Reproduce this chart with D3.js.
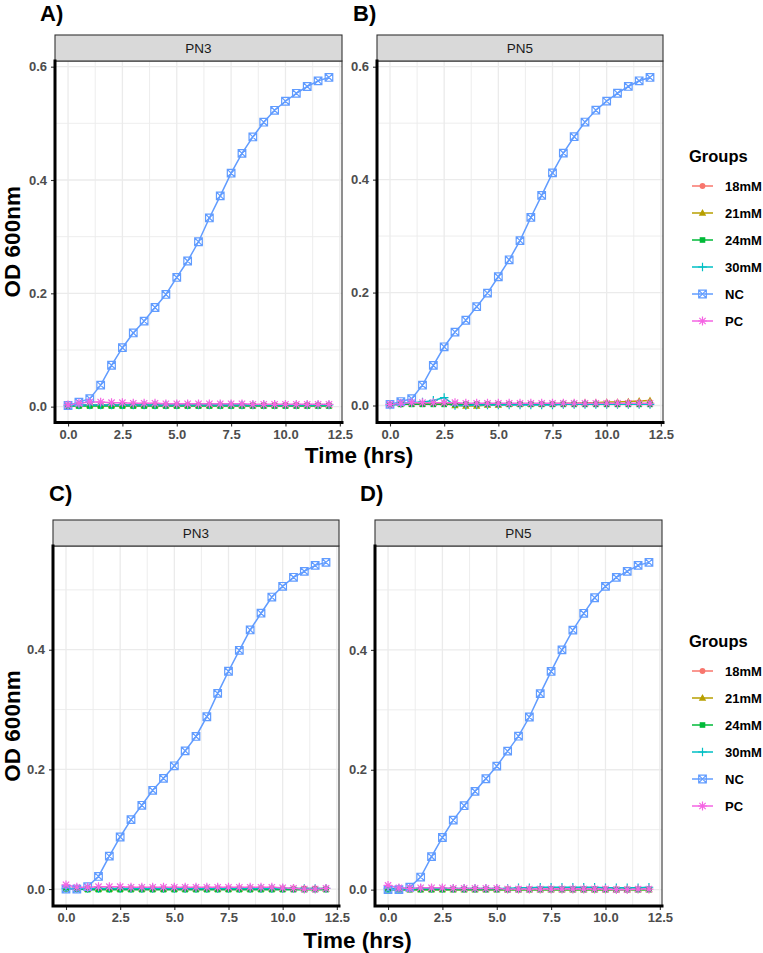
<!DOCTYPE html>
<html>
<head>
<meta charset="utf-8">
<title>OD600 growth curves</title>
<script src="https://d3js.org/d3.v7.min.js"></script>
<style>
body {
  margin: 0;
  background: #fff;
  font-family: 'Liberation Sans', Arial, Helvetica, sans-serif;
}
</style>
</head>
<body>
<svg id="chart"></svg>
<script>
// time points (hrs)
var times = [0, 0.5, 1, 1.5, 2, 2.5, 3, 3.5, 4, 4.5, 5, 5.5, 6, 6.5, 7, 7.5, 8, 8.5, 9, 9.5, 10, 10.5, 11, 11.5, 12];

var groups = ['18mM', '21mM', '24mM', '30mM', 'NC', 'PC'];
var colors = ['#F8766D', '#B79F00', '#00BA38', '#00BFC4', '#619CFF', '#F564E3'];
var shapes = ['circle', 'triangle', 'square', 'plus', 'squareCross', 'asterisk'];

var xTicks = [0, 2.5, 5, 7.5, 10, 12.5];
var xMinor = [1.25, 3.75, 6.25, 8.75, 11.25];

// A) PN3, top
var a18 = [0.002, 0.003, 0.003, 0.003, 0.003, 0.003, 0.003, 0.003, 0.003, 0.003, 0.003, 0.003, 0.003, 0.003, 0.003, 0.003, 0.003, 0.003, 0.003, 0.003, 0.003, 0.003, 0.003, 0.003, 0.003];
var a21 = [0.001, 0.002, 0.002, 0.002, 0.002, 0.002, 0.002, 0.002, 0.002, 0.002, 0.002, 0.002, 0.002, 0.002, 0.002, 0.002, 0.002, 0.002, 0.002, 0.002, 0.002, 0.002, 0.002, 0.002, 0.002];
var a24 = [0.001, 0.001, 0.001, 0.001, 0.001, 0.001, 0.001, 0.001, 0.001, 0.001, 0.001, 0.001, 0.001, 0.001, 0.001, 0.001, 0.001, 0.001, 0.001, 0.001, 0.001, 0.001, 0.001, 0.001, 0.001];
var a30 = [0.002, 0.003, 0.003, 0.003, 0.003, 0.003, 0.003, 0.003, 0.003, 0.003, 0.003, 0.003, 0.003, 0.003, 0.003, 0.003, 0.003, 0.003, 0.003, 0.003, 0.003, 0.003, 0.003, 0.003, 0.003];
var aNC = [0.002, 0.008, 0.014, 0.038, 0.073, 0.104, 0.130, 0.151, 0.175, 0.198, 0.228, 0.257, 0.291, 0.333, 0.372, 0.412, 0.447, 0.476, 0.502, 0.523, 0.539, 0.553, 0.565, 0.575, 0.581];
var aPC = [0.003, 0.006, 0.008, 0.008, 0.007, 0.007, 0.006, 0.006, 0.006, 0.005, 0.005, 0.005, 0.005, 0.005, 0.005, 0.005, 0.005, 0.004, 0.004, 0.004, 0.004, 0.004, 0.004, 0.004, 0.004];

// B) PN5, top
var b18 = [0.002, 0.003, 0.003, 0.003, 0.003, 0.003, 0.003, 0.003, 0.003, 0.003, 0.003, 0.003, 0.003, 0.003, 0.003, 0.003, 0.003, 0.003, 0.003, 0.003, 0.003, 0.003, 0.003, 0.003, 0.003];
var b21 = [0.002, 0.003, 0.003, 0.003, 0.004, 0.004, 0.000, -0.001, -0.001, 0.001, 0.001, 0.002, 0.002, 0.002, 0.002, 0.003, 0.004, 0.004, 0.005, 0.005, 0.006, 0.006, 0.007, 0.008, 0.009];
var b24 = [0.001, 0.002, 0.002, 0.002, 0.002, 0.002, 0.002, 0.002, 0.002, 0.002, 0.002, 0.002, 0.002, 0.002, 0.002, 0.002, 0.002, 0.002, 0.002, 0.002, 0.002, 0.002, 0.002, 0.002, 0.002];
var b30 = [0.001, 0.004, 0.005, 0.006, 0.009, 0.014, 0.000, 0.000, 0.001, 0.001, 0.001, 0.001, 0.001, 0.001, 0.001, 0.001, 0.002, 0.002, 0.002, 0.002, 0.002, 0.002, 0.002, 0.002, 0.002];
var bNC = [0.002, 0.007, 0.012, 0.036, 0.071, 0.104, 0.130, 0.151, 0.175, 0.199, 0.228, 0.258, 0.292, 0.333, 0.372, 0.412, 0.447, 0.476, 0.502, 0.523, 0.539, 0.553, 0.565, 0.575, 0.581];
var bPC = [0.002, 0.004, 0.005, 0.005, 0.005, 0.005, 0.005, 0.004, 0.004, 0.004, 0.004, 0.004, 0.004, 0.004, 0.004, 0.004, 0.004, 0.004, 0.004, 0.004, 0.004, 0.004, 0.004, 0.004, 0.004];

// C) PN3, bottom
var c18 = [0.001, 0.001, 0.001, 0.001, 0.001, 0.001, 0.001, 0.001, 0.001, 0.001, 0.001, 0.001, 0.001, 0.001, 0.001, 0.001, 0.001, 0.001, 0.001, 0.001, 0.001, 0.001, 0.001, 0.001, 0.001];
var c21 = [0.000, 0.000, 0.000, 0.000, 0.000, 0.000, 0.000, 0.000, 0.000, 0.000, 0.000, 0.000, 0.000, 0.000, 0.000, 0.000, 0.000, 0.000, 0.000, 0.000, 0.000, 0.000, 0.000, 0.000, 0.000];
var c24 = [0.001, 0.000, -0.001, -0.001, -0.001, -0.001, -0.001, -0.001, -0.001, -0.001, -0.001, -0.001, -0.001, -0.001, -0.001, -0.001, -0.001, -0.001, -0.001, -0.001, -0.001, -0.001, -0.001, -0.001, -0.001];
var c30 = [0.001, 0.001, 0.001, 0.001, 0.001, 0.001, 0.001, 0.001, 0.001, 0.001, 0.001, 0.001, 0.001, 0.001, 0.001, 0.001, 0.001, 0.001, 0.001, 0.001, 0.001, 0.001, 0.001, 0.001, 0.001];
var cNC = [0.000, 0.000, 0.004, 0.021, 0.055, 0.087, 0.116, 0.140, 0.165, 0.185, 0.206, 0.231, 0.255, 0.288, 0.327, 0.364, 0.399, 0.433, 0.461, 0.488, 0.506, 0.521, 0.531, 0.541, 0.546];
var cPC = [0.007, 0.003, 0.003, 0.004, 0.004, 0.004, 0.003, 0.003, 0.003, 0.003, 0.003, 0.003, 0.003, 0.003, 0.003, 0.003, 0.003, 0.003, 0.003, 0.003, 0.002, 0.001, 0.000, 0.000, 0.001];

// D) PN5, bottom
var d18 = [0.001, 0.001, 0.001, 0.001, 0.001, 0.001, 0.001, 0.001, 0.001, 0.001, 0.001, 0.001, 0.001, 0.001, 0.001, 0.001, 0.001, 0.001, 0.001, 0.001, 0.001, 0.001, 0.001, 0.001, 0.001];
var d21 = [0.000, 0.000, 0.000, 0.000, 0.000, 0.000, 0.000, 0.000, 0.000, 0.000, 0.000, 0.000, 0.000, 0.000, 0.000, 0.000, 0.000, 0.000, 0.000, 0.000, 0.000, 0.000, 0.000, 0.000, 0.000];
var d24 = [0.000, 0.000, 0.000, 0.000, 0.000, 0.000, 0.000, 0.000, 0.000, 0.000, 0.000, 0.000, 0.000, 0.000, 0.000, 0.000, 0.000, 0.000, 0.000, 0.000, 0.000, 0.000, 0.000, 0.000, 0.000];
var d30 = [0.002, 0.002, 0.002, 0.002, 0.002, 0.002, 0.002, 0.002, 0.002, 0.002, 0.002, 0.002, 0.003, 0.003, 0.004, 0.004, 0.004, 0.004, 0.004, 0.004, 0.003, 0.003, 0.003, 0.003, 0.004];
var dNC = [0.000, 0.000, 0.004, 0.021, 0.055, 0.087, 0.116, 0.140, 0.164, 0.185, 0.206, 0.231, 0.256, 0.288, 0.327, 0.364, 0.400, 0.433, 0.461, 0.487, 0.506, 0.521, 0.531, 0.541, 0.546];
var dPC = [0.007, 0.003, 0.002, 0.003, 0.003, 0.003, 0.002, 0.002, 0.002, 0.002, 0.002, 0.001, 0.001, 0.001, 0.001, 0.001, 0.001, 0.001, 0.001, 0.001, 0.001, 0.000, 0.000, 0.001, 0.001];

var width = 763, height = 953;

var svg = d3.select('#chart')
    .attr('width', width)
    .attr('height', height);

// panel frames (layout only)
var panels = [
    { tag: 'A)', strip: 'PN3', series: [a18, a21, a24, a30, aNC, aPC], left: 55, right: 342, top: 61, bottom: 422.5, tagX: 40, tagY: 20.5 },
    { tag: 'B)', strip: 'PN5', series: [b18, b21, b24, b30, bNC, bPC], left: 377, right: 663, top: 61, bottom: 422.5, tagX: 353, tagY: 20.5 },
    { tag: 'C)', strip: 'PN3', series: [c18, c21, c24, c30, cNC, cPC], left: 53, right: 339, top: 546, bottom: 906, tagX: 49, tagY: 501 },
    { tag: 'D)', strip: 'PN5', series: [d18, d21, d24, d30, dNC, dPC], left: 375, right: 662, top: 546, bottom: 906, tagX: 360, tagY: 501 }
];

var stripH = 26;

// ggplot-like 5% expansion
function expand(ext) {
    var pad = (ext[1] - ext[0]) * 0.05;
    return [ext[0] - pad, ext[1] + pad];
}

var xDomain = expand(d3.extent(times));

/**
 * Draw one marker of a given shape
 */
function drawShape(g, shape, color, cx, cy) {
    var s;
    if (shape === 'circle') {
        g.append('circle').attr('cx', cx).attr('cy', cy).attr('r', 2.9).attr('fill', color);
    } else if (shape === 'triangle') {
        s = 3.9;
        g.append('path')
            .attr('d', 'M' + cx + ',' + (cy - s) + 'L' + (cx + s * 0.95) + ',' + (cy + s * 0.7) + 'L' + (cx - s * 0.95) + ',' + (cy + s * 0.7) + 'Z')
            .attr('fill', color);
    } else if (shape === 'square') {
        s = 2.8;
        g.append('rect').attr('x', cx - s).attr('y', cy - s).attr('width', 2 * s).attr('height', 2 * s).attr('fill', color);
    } else if (shape === 'plus') {
        s = 4.3;
        g.append('path')
            .attr('d', 'M' + (cx - s) + ',' + cy + 'H' + (cx + s) + 'M' + cx + ',' + (cy - s) + 'V' + (cy + s))
            .attr('stroke', color).attr('stroke-width', 1.2).attr('fill', 'none');
    } else if (shape === 'squareCross') {
        s = 3.8;
        g.append('path')
            .attr('d', 'M' + (cx - s) + ',' + (cy - s) + 'H' + (cx + s) + 'V' + (cy + s) + 'H' + (cx - s) + 'Z' +
                'M' + (cx - s) + ',' + (cy - s) + 'L' + (cx + s) + ',' + (cy + s) +
                'M' + (cx + s) + ',' + (cy - s) + 'L' + (cx - s) + ',' + (cy + s))
            .attr('stroke', color).attr('stroke-width', 1.2).attr('fill', 'none');
    } else if (shape === 'asterisk') {
        s = 4.4;
        var k = s * 0.72;
        g.append('path')
            .attr('d', 'M' + (cx - s) + ',' + cy + 'H' + (cx + s) + 'M' + cx + ',' + (cy - s) + 'V' + (cy + s) +
                'M' + (cx - k) + ',' + (cy - k) + 'L' + (cx + k) + ',' + (cy + k) +
                'M' + (cx + k) + ',' + (cy - k) + 'L' + (cx - k) + ',' + (cy + k))
            .attr('stroke', color).attr('stroke-width', 1.2).attr('fill', 'none');
    }
}

/**
 * Draw a single facet panel
 */
function drawPanel(p) {
    var g = svg.append('g');

    var x = d3.scaleLinear().domain(xDomain).range([p.left, p.right]);
    var y = d3.scaleLinear().domain(expand(d3.extent(d3.merge(p.series)))).range([p.bottom, p.top]);

    var yTicks = [0, 0.2, 0.4, 0.6].filter(function (v) { return v >= y.domain()[0] && v <= y.domain()[1]; });
    var yMinor = [0.1, 0.3, 0.5].filter(function (v) { return v >= y.domain()[0] && v <= y.domain()[1]; });

    // panel background
    g.append('rect')
        .attr('x', p.left).attr('y', p.top)
        .attr('width', p.right - p.left).attr('height', p.bottom - p.top)
        .attr('fill', '#fff');

    // grid
    g.selectAll('.gx-minor').data(xMinor).enter().append('line')
        .attr('x1', x).attr('x2', x).attr('y1', p.top).attr('y2', p.bottom)
        .attr('stroke', '#EBEBEB').attr('stroke-width', 0.9);
    g.selectAll('.gy-minor').data(yMinor).enter().append('line')
        .attr('x1', p.left).attr('x2', p.right).attr('y1', y).attr('y2', y)
        .attr('stroke', '#EBEBEB').attr('stroke-width', 0.9);
    g.selectAll('.gx').data(xTicks).enter().append('line')
        .attr('x1', x).attr('x2', x).attr('y1', p.top).attr('y2', p.bottom)
        .attr('stroke', '#EBEBEB').attr('stroke-width', 1.3);
    g.selectAll('.gy').data(yTicks).enter().append('line')
        .attr('x1', p.left).attr('x2', p.right).attr('y1', y).attr('y2', y)
        .attr('stroke', '#EBEBEB').attr('stroke-width', 1.3);

    var line = d3.line()
        .x(function (d, i) { return x(times[i]); })
        .y(function (d) { return y(d); });

    // lines first, then points (geom_line + geom_point)
    p.series.forEach(function (vals, gi) {
        g.append('path')
            .datum(vals)
            .attr('d', line)
            .attr('fill', 'none')
            .attr('stroke', colors[gi])
            .attr('stroke-width', 1.5);
    });
    p.series.forEach(function (vals, gi) {
        var pg = g.append('g');
        vals.forEach(function (v, i) {
            drawShape(pg, shapes[gi], colors[gi], x(times[i]), y(v));
        });
    });

    // panel border (top / right)
    g.append('path')
        .attr('d', 'M' + p.left + ',' + p.top + 'H' + p.right + 'V' + p.bottom)
        .attr('fill', 'none').attr('stroke', '#333').attr('stroke-width', 1.1);

    // strip
    g.append('rect')
        .attr('x', p.left).attr('y', p.top - stripH)
        .attr('width', p.right - p.left).attr('height', stripH)
        .attr('fill', '#D9D9D9').attr('stroke', '#333').attr('stroke-width', 1.1);
    g.append('text')
        .attr('x', (p.left + p.right) / 2).attr('y', p.top - stripH / 2)
        .attr('dy', '0.36em')
        .attr('text-anchor', 'middle')
        .attr('font-size', '13.5px')
        .attr('fill', '#1A1A1A')
        .text(p.strip);

    // axes
    var yAxis = g.append('g')
        .attr('transform', 'translate(' + p.left + ',0)')
        .call(d3.axisLeft(y).tickValues(yTicks).tickFormat(d3.format('.1f')).tickSize(4).tickPadding(4));
    var xAxis = g.append('g')
        .attr('transform', 'translate(0,' + p.bottom + ')')
        .call(d3.axisBottom(x).tickValues(xTicks).tickFormat(d3.format('.1f')).tickSize(4).tickPadding(3));

    [yAxis, xAxis].forEach(function (ax) {
        ax.select('.domain').remove();
        ax.selectAll('.tick line').attr('stroke', '#333').attr('stroke-width', 1.1);
        ax.selectAll('.tick text')
            .attr('fill', '#4D4D4D')
            .attr('font-size', '13px')
            .attr('font-weight', 'bold')
            .attr('font-family', "'Liberation Sans', Arial, sans-serif");
    });

    // thick black axis lines
    g.append('path')
        .attr('d', 'M' + p.left + ',' + p.top + 'V' + p.bottom + 'H' + p.right)
        .attr('fill', 'none').attr('stroke', '#000').attr('stroke-width', 3)
        .attr('stroke-linecap', 'square').attr('stroke-linejoin', 'miter');

    // tag
    svg.append('text')
        .attr('x', p.tagX).attr('y', p.tagY)
        .attr('font-size', '22px')
        .attr('font-weight', 'bold')
        .attr('fill', '#000')
        .text(p.tag);
}

panels.forEach(drawPanel);

// axis titles, per row
var rows = [
    { top: 61, bottom: 422.5, left: 55, right: 663, timeY: 463 },
    { top: 546, bottom: 906, left: 53, right: 662, timeY: 948 }
];

rows.forEach(function (r) {
    svg.append('text')
        .attr('transform', 'translate(20,' + (r.top + r.bottom) / 2 + ')rotate(-90)')
        .attr('text-anchor', 'middle')
        .attr('font-size', '22.5px')
        .attr('font-weight', 'bold')
        .attr('fill', '#000')
        .text('OD 600nm');
    svg.append('text')
        .attr('x', (r.left + r.right) / 2).attr('y', r.timeY)
        .attr('text-anchor', 'middle')
        .attr('font-size', '22.5px')
        .attr('font-weight', 'bold')
        .attr('fill', '#000')
        .text('Time (hrs)');
});

// legends, one per row
var legendTops = [162, 647];

legendTops.forEach(function (ly) {
    var lg = svg.append('g').attr('transform', 'translate(689,' + ly + ')');
    lg.append('text')
        .attr('x', 0).attr('y', 0)
        .attr('font-size', '16.5px')
        .attr('font-weight', 'bold')
        .attr('fill', '#000')
        .text('Groups');

    var items = lg.selectAll('.item').data(groups).enter().append('g')
        .attr('transform', function (d, i) { return 'translate(0,' + (24 + i * 27) + ')'; });

    items.append('line')
        .attr('x1', 3).attr('x2', 24).attr('y1', 0).attr('y2', 0)
        .attr('stroke', function (d, i) { return colors[i]; })
        .attr('stroke-width', 1.5);
    items.each(function (d, i) {
        drawShape(d3.select(this), shapes[i], colors[i], 13.5, 0);
    });
    items.append('text')
        .attr('x', 36).attr('y', 0).attr('dy', '0.36em')
        .attr('font-size', '13px')
        .attr('font-weight', 'bold')
        .attr('fill', '#000')
        .text(function (d) { return d; });
});
</script>
</body>
</html>
